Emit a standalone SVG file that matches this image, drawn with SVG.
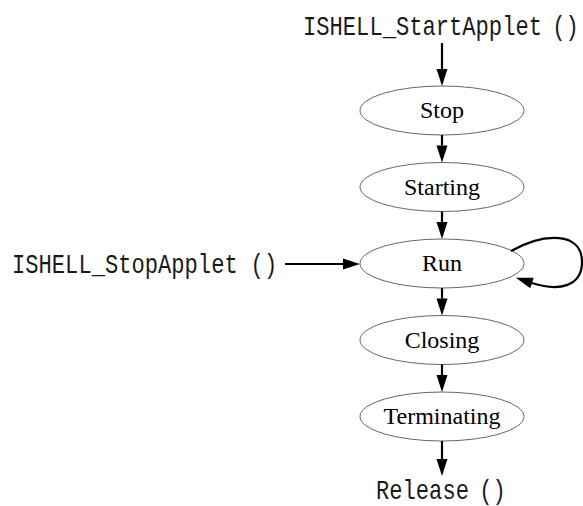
<svg xmlns="http://www.w3.org/2000/svg" width="583" height="506" viewBox="0 0 583 506">
  <style>
    .state ellipse { fill: #ffffff; stroke: #666666; stroke-width: 1; }
    .state text { font-family: "Liberation Serif", "Times New Roman", serif; font-size: 24px; fill: #000000; text-anchor: middle; }
    .call { font-family: "Liberation Mono", "DejaVu Sans Mono", monospace; font-size: 27px; fill: #1a1a1a; }
    .edge { fill: none; stroke: #000000; stroke-width: 2.2; marker-end: url(#head); }
  </style>
  <defs>
    <marker id="head" markerUnits="userSpaceOnUse" markerWidth="17" markerHeight="11" refX="0" refY="5.5" orient="auto" viewBox="0 0 17 11" overflow="visible">
      <path d="M0,0 L17,5.5 L0,11 Z" fill="#000000"/>
    </marker>
  </defs>

  <rect width="583" height="506" fill="#ffffff"/>

  <!-- external calls (narrow monospace) -->
  <g id="start-applet">
    <text class="call" transform="translate(303,35) scale(0.82,1)">ISHELL_StartApplet<tspan x="304">()</tspan></text>
  </g>
  <g id="stop-applet">
    <text class="call" transform="translate(12,273) scale(0.82,1)">ISHELL_StopApplet<tspan x="291">()</tspan></text>
  </g>
  <g id="release">
    <text class="call" transform="translate(376,499) scale(0.82,1)">Release<tspan x="126">()</tspan></text>
  </g>

  <!-- states -->
  <g id="stop" class="state">
    <ellipse cx="442" cy="110.5" rx="82" ry="24.5"/>
    <text x="442" y="118">Stop</text>
  </g>
  <g id="starting" class="state">
    <ellipse cx="442" cy="187" rx="82" ry="24.5"/>
    <text x="442" y="194.5">Starting</text>
  </g>
  <g id="run" class="state">
    <ellipse cx="442" cy="263.5" rx="82" ry="24.5"/>
    <text x="442" y="271">Run</text>
  </g>
  <g id="closing" class="state">
    <ellipse cx="442" cy="340" rx="82" ry="24.5"/>
    <text x="442" y="347.5">Closing</text>
  </g>
  <g id="terminating" class="state">
    <ellipse cx="442" cy="416.5" rx="82" ry="24.5"/>
    <text x="442" y="424">Terminating</text>
  </g>

  <!-- transitions -->
  <g id="edges">
    <path class="edge" d="M442,43 L442,69"/>
    <path class="edge" d="M442,135 L442,145.5"/>
    <path class="edge" d="M442,211.5 L442,222"/>
    <path class="edge" d="M442,288 L442,298.5"/>
    <path class="edge" d="M442,364.5 L442,375"/>
    <path class="edge" d="M442,441 L442,459"/>
    <path class="edge" d="M285,264 L343,264"/>
    <path class="edge" d="M511,251 C545,232 582,232 582,262 C582,286 560,292 532,283"/>
  </g>
</svg>
